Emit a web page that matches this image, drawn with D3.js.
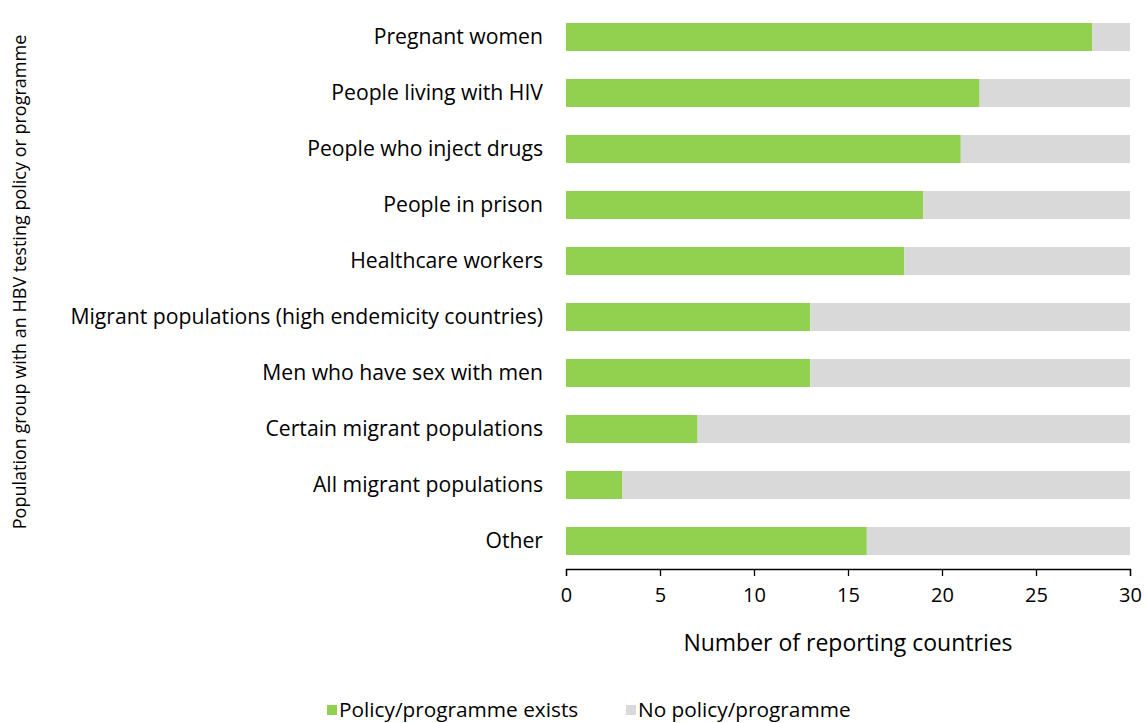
<!DOCTYPE html>
<html><head><meta charset="utf-8">
<script src="https://cdn.jsdelivr.net/npm/d3@7"></script>
<style>body{margin:0;background:#fff}svg{display:block}text{font-family:"Open Sans",sans-serif;fill:#000}</style>
</head><body><svg id="c" width="1145" height="723"></svg>
<script>
const categories = ["Pregnant women","People living with HIV","People who inject drugs","People in prison","Healthcare workers","Migrant populations (high endemicity countries)","Men who have sex with men","Certain migrant populations","All migrant populations","Other"];
const policyExists = [28,22,21,19,18,13,13,7,3,16];
const noPolicy = [2,8,9,11,12,17,17,23,27,14];
const xTicks = [0,5,10,15,20,25,30];
const seriesNames = ["Policy/programme exists","No policy/programme"];
const colors = ["#92D050","#D9D9D9"];

const svg = d3.select("#c");
const x = d3.scaleLinear().domain([0,30]).range([566,1130]);
const y = d3.scaleBand().domain(categories).range([9,569]).paddingInner(0.5).paddingOuter(0.25);

const rows = categories.map((c,i)=>({cat:c, a:policyExists[i], b:noPolicy[i]}));
const stack = d3.stack().keys(["a","b"])(rows);
svg.selectAll("g.s").data(stack).join("g").attr("fill",(d,i)=>colors[i])
  .selectAll("rect").data(d=>d).join("rect")
  .attr("x",d=>x(d[0])).attr("width",d=>x(d[1])-x(d[0]))
  .attr("y",d=>y(d.data.cat)).attr("height",y.bandwidth());

svg.selectAll("text.cat").data(categories).join("text").attr("class","cat")
  .attr("x",543).attr("y",d=>y(d)+y.bandwidth()/2).attr("dy","0.35em")
  .attr("text-anchor","end").style("font-size","21.2px").text(d=>d);

const ax = svg.append("g").attr("transform","translate(0,569)")
  .call(d3.axisBottom(x).tickValues(xTicks).tickSize(7).tickPadding(12));
ax.select(".domain").attr("stroke","#000").attr("stroke-width",1.3);
ax.selectAll(".tick line").attr("stroke","#000").attr("stroke-width",1.3);
ax.selectAll(".tick text").style("font-size","20px").style("font-family","'Open Sans',sans-serif");

svg.append("text").attr("x",848).attr("y",643).attr("dy","0.35em").attr("text-anchor","middle")
  .style("font-size","23px").text("Number of reporting countries");

svg.append("text").attr("transform","translate(20,282) rotate(-90)").attr("dy","0.35em").attr("text-anchor","middle")
  .style("font-size","18px").text("Population group with an HBV testing policy or programme");

const legX = [327,626];
seriesNames.forEach((n,i)=>{
  svg.append("rect").attr("x",legX[i]).attr("y",705).attr("width",10).attr("height",10).attr("fill",colors[i]);
  svg.append("text").attr("x",legX[i]+12).attr("y",710).attr("dy","0.35em").style("font-size","20.8px").text(n);
});
</script></body></html>
